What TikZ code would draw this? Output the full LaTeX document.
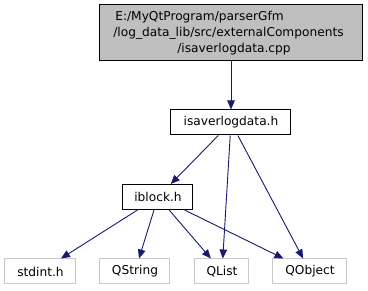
\documentclass[tikz,border=0pt]{standalone}
\usepackage{fontspec}
\setmainfont{DejaVu Sans}
\usetikzlibrary{arrows.meta}
\definecolor{edgeblue}{HTML}{191970}
\definecolor{extgray}{HTML}{C8C8C8}
\definecolor{rootfill}{HTML}{BFBFBF}
\begin{document}
\begin{tikzpicture}[x=1pt,y=-1pt,
  txt/.style={font=\fontsize{12.2}{14}\selectfont},
  lbl/.style={txt, inner sep=0pt},
  rootbox/.style={draw=black, line width=1pt, fill=rootfill, inner sep=0pt},
  filebox/.style={txt, draw=black, line width=1pt, fill=white, inner sep=0pt, minimum height=25pt},
  extbox/.style={txt, draw=extgray, line width=1pt, fill=white, inner sep=0pt, minimum height=25pt},
  dep/.style={draw=edgeblue, line width=0.9pt, -{Triangle[length=9pt,width=7.5pt]}}]
\useasboundingbox (0,0) rectangle (368,291);

% source file of the graph
\node[rootbox, minimum width=263pt, minimum height=56pt] (root) at (231,33) {};
\node[lbl] (r1) at (199.5,17) {E:/MyQtProgram/parserGfm};
\node[lbl] (r2) at (228.5,33) {/log\_data\_lib/src/externalComponents};
\node[lbl] (r3) at (234,49) {/isaverlogdata.cpp};

% project headers
\node[filebox, minimum width=120pt] (isav) at (231,122.5) {isaverlogdata.h};
\node[filebox, minimum width=70pt] (iblock) at (158,197) {iblock.h};

% external headers
\node[extbox, minimum width=71pt] (stdint) at (40.5,271.5) {stdint.h};
\node[extbox, minimum width=70pt] (qstring) at (135,271.5) {QString};
\node[extbox, minimum width=54pt] (qlist) at (222,271.5) {QList};
\node[extbox, minimum width=74pt] (qobject) at (310,271.5) {QObject};

% include dependencies
\draw[dep] (root) -- (isav);
\draw[dep] (isav) -- (iblock);
\draw[dep] (isav) -- (qlist);
\draw[dep] (isav) -- (qobject);
\draw[dep] (iblock) -- (stdint);
\draw[dep] (iblock) -- (qstring);
\draw[dep] (iblock) -- (qlist);
\draw[dep] (iblock) -- (qobject);
\end{tikzpicture}
\end{document}
